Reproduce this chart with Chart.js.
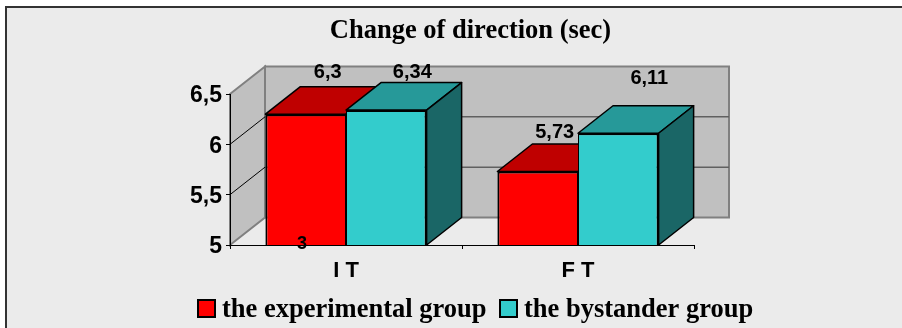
<!DOCTYPE html>
<html>
<head>
<meta charset="utf-8">
<style>
  html, body { margin: 0; padding: 0; background: #fff; }
  #wrap { width: 902px; height: 328px; }
</style>
<script src="https://cdn.jsdelivr.net/npm/chart.js@4/dist/chart.umd.min.js"></script>
</head>
<body>
<div id="wrap"><canvas id="chart" width="902" height="328"></canvas></div>
<script>
const categories = ['I T', 'F T'];
const experimentalGroup = [6.3, 5.73];
const bystanderGroup = [6.34, 6.11];
const yTicks = [5, 5.5, 6, 6.5];
const titleText = 'Change of direction (sec)';
const seriesNames = ['the experimental group', 'the bystander group'];
const strayLabel = '3';

// 3D look: depth of the extruded bars and walls, in pixels
const DEPTH_X = 35;
const DEPTH_Y = 27.5;
const SANS = '"Liberation Sans", Arial, sans-serif';
const SERIF = '"Liberation Serif", "Times New Roman", serif';

const faceColors = [
    { front: '#ff0000', top: '#bf0000', side: '#800000' },
    { front: '#33cccc', top: '#269999', side: '#1a6666' }
];

// hand placed value labels, offset from the top centre of each bar
const labelOffsets = [
    [[23, -42], [18, -39]],
    [[27, -38], [32, -55]]
];

function poly(ctx, pts, fill, stroke, width) {
    ctx.beginPath();
    pts.forEach((p, i) => i ? ctx.lineTo(p[0], p[1]) : ctx.moveTo(p[0], p[1]));
    ctx.closePath();
    if (fill) { ctx.fillStyle = fill; ctx.fill(); }
    if (stroke) { ctx.strokeStyle = stroke; ctx.lineWidth = width; ctx.stroke(); }
}

function line(ctx, x1, y1, x2, y2, color, width) {
    ctx.beginPath();
    ctx.moveTo(x1, y1);
    ctx.lineTo(x2, y2);
    ctx.strokeStyle = color;
    ctx.lineWidth = width;
    ctx.stroke();
}

const chart3d = {
    id: 'chart3d',
    beforeDraw(chart) {
        const ctx = chart.ctx;
        const { left, right, top, bottom } = chart.chartArea;
        const y = chart.scales.y;
        ctx.save();
        // outer panel
        ctx.fillStyle = '#ebebeb';
        ctx.fillRect(6, 6, 896, 322);
        line(ctx, 6, 7, 902, 7, '#333333', 2);
        line(ctx, 6, 6, 6, 328, '#333333', 2);
        // walls
        poly(ctx, [[left + DEPTH_X, top - DEPTH_Y], [right + DEPTH_X, top - DEPTH_Y], [right + DEPTH_X, bottom - DEPTH_Y], [left + DEPTH_X, bottom - DEPTH_Y]], '#c0c0c0', '#808080', 2);
        poly(ctx, [[left, top], [left + DEPTH_X, top - DEPTH_Y], [left + DEPTH_X, bottom - DEPTH_Y], [left, bottom]], '#c0c0c0', '#808080', 2);
        yTicks.slice(1, -1).forEach(v => {
            const py = y.getPixelForValue(v);
            line(ctx, left, py, left + DEPTH_X, py - DEPTH_Y, '#000000', 1);
            line(ctx, left + DEPTH_X, py - DEPTH_Y, right + DEPTH_X, py - DEPTH_Y, '#606060', 1.5);
        });
        ctx.restore();
    },
    beforeDatasetsDraw(chart) {
        const ctx = chart.ctx;
        const base = chart.scales.y.getPixelForValue(yTicks[0]);
        ctx.save();
        ctx.lineJoin = 'round';
        categories.forEach((c, i) => {
            chart.data.datasets.forEach((ds, d) => {
                const bar = chart.getDatasetMeta(d).data[i];
                const l = bar.x - bar.width / 2, r = bar.x + bar.width / 2;
                poly(ctx, [[l, bar.y], [l + DEPTH_X, bar.y - DEPTH_Y], [r + DEPTH_X, bar.y - DEPTH_Y], [r, bar.y]], faceColors[d].top, '#000000', 1.5);
                poly(ctx, [[r, bar.y], [r + DEPTH_X, bar.y - DEPTH_Y], [r + DEPTH_X, base - DEPTH_Y], [r, base]], faceColors[d].side, '#000000', 1.5);
            });
        });
        ctx.restore();
    },
    afterDraw(chart) {
        const ctx = chart.ctx;
        ctx.save();
        ctx.textBaseline = 'middle';
        ctx.fillStyle = '#000000';

        // value labels
        ctx.textAlign = 'center';
        ctx.font = 'bold 20px ' + SANS;
        chart.data.datasets.forEach((ds, d) => {
            chart.getDatasetMeta(d).data.forEach((bar, i) => {
                const off = labelOffsets[d][i];
                ctx.fillText(String(ds.data[i]).replace('.', ','), bar.x + off[0] - 1, bar.y + off[1]);
            });
        });
        ctx.font = 'bold 18px ' + SANS;
        ctx.fillText(strayLabel, 302, 244);

        // title
        ctx.font = 'bold 26.5px ' + SERIF;
        ctx.fillText(titleText, 470.5, 31);

        // legend
        ctx.textAlign = 'left';
        ctx.font = 'bold 26.5px ' + SERIF;
        const boxX = [198, 500];
        seriesNames.forEach((name, i) => {
            ctx.fillStyle = faceColors[i].front;
            ctx.fillRect(boxX[i], 300, 17, 17);
            ctx.strokeStyle = '#000000';
            ctx.lineWidth = 2;
            ctx.strokeRect(boxX[i], 300, 17, 17);
            ctx.fillStyle = '#000000';
            ctx.fillText(name, boxX[i] + 24, 310);
        });
        ctx.restore();
    }
};

new Chart(document.getElementById('chart'), {
    type: 'bar',
    data: {
        labels: categories,
        datasets: [
            { label: seriesNames[0], data: experimentalGroup, backgroundColor: faceColors[0].front, borderColor: '#000000', borderWidth: { top: 2, left: 2, right: 1, bottom: 0 } },
            { label: seriesNames[1], data: bystanderGroup, backgroundColor: faceColors[1].front, borderColor: '#000000', borderWidth: { top: 2, left: 1, right: 2, bottom: 0 } }
        ]
    },
    options: {
        responsive: false,
        animation: false,
        layout: { padding: { left: 170, right: 208, top: 94, bottom: 43 } },
        datasets: { bar: { barPercentage: 1, categoryPercentage: 0.695 } },
        plugins: {
            legend: { display: false },
            title: { display: false },
            tooltip: { enabled: false }
        },
        scales: {
            x: {
                afterFit: s => { s.height = 40; },
                grid: { drawOnChartArea: false, color: '#000000', tickLength: 4 },
                border: { color: '#000000', width: 1 },
                ticks: { color: '#000000', padding: 9, font: { family: SANS, size: 22, weight: 'bold' } }
            },
            y: {
                min: 5,
                max: 6.5,
                afterFit: s => { s.width = 60; },
                afterBuildTicks: s => { s.ticks = yTicks.map(v => ({ value: v })); },
                grid: { drawOnChartArea: false, color: '#000000', tickLength: 4 },
                border: { color: '#000000', width: 1 },
                ticks: {
                    color: '#000000',
                    padding: 4,
                    labelOffset: 2,
                    font: { family: SANS, size: 23, weight: 'bold' },
                    callback: v => String(v).replace('.', ',')
                }
            }
        }
    },
    plugins: [chart3d]
});
</script>
</body>
</html>
